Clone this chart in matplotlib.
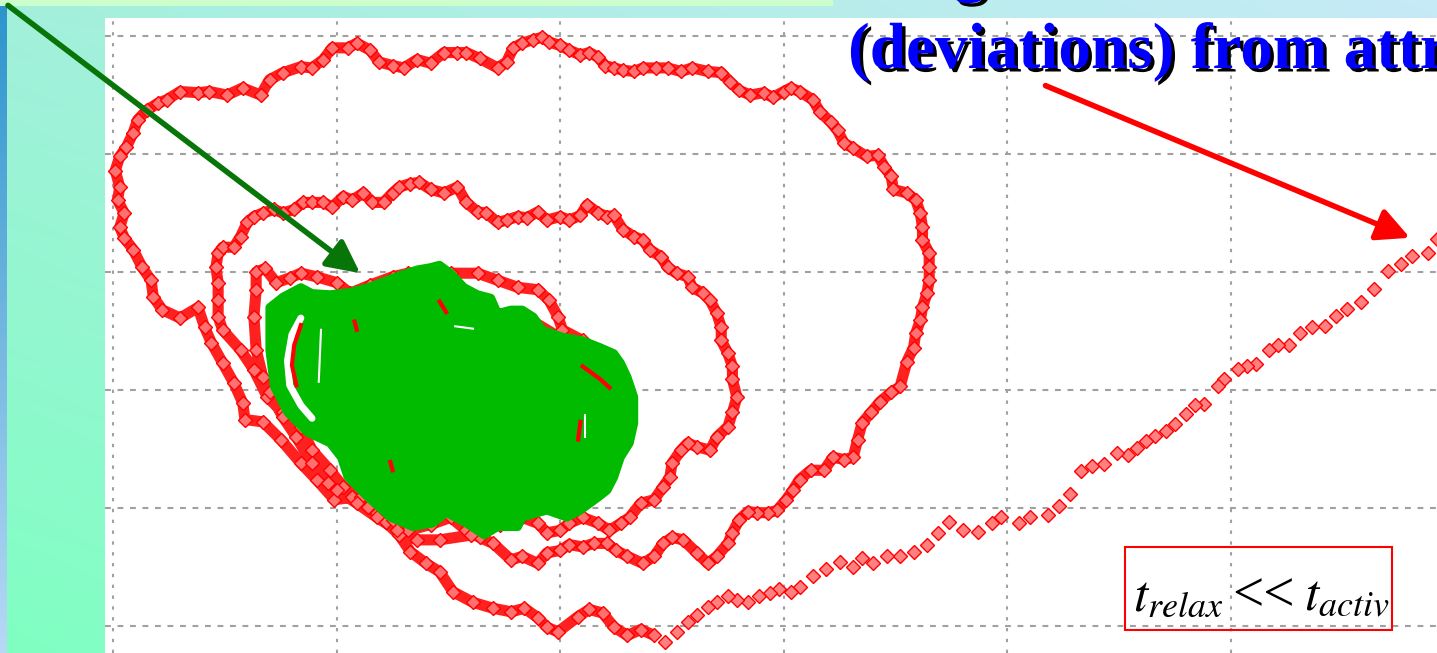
import numpy as np
import matplotlib.pyplot as plt
import matplotlib.patheffects as pe
from matplotlib.patches import Polygon, Rectangle

plt.rcParams['mathtext.fontset'] = 'stix'

# phase-space trajectory, grid units (grid lines at 0..5 on both axes)
# transient: sparse approach from far away (upper right)
tail = [(5.92, 3.28), (5.88, 3.16), (5.81, 3.14), (5.76, 3.07), (5.70, 3.01), (5.64, 2.86),
        (5.58, 2.75), (5.52, 2.69), (5.47, 2.63), (5.42, 2.54), (5.36, 2.53), (5.31, 2.48),
        (5.26, 2.38), (5.21, 2.38), (5.17, 2.34), (5.11, 2.22), (5.07, 2.20), (5.03, 2.18),
        (4.97, 2.09), (4.94, 2.03), (4.88, 1.88), (4.84, 1.87), (4.80, 1.80), (4.75, 1.71),
        (4.71, 1.65), (4.66, 1.61), (4.62, 1.57), (4.58, 1.51), (4.54, 1.45), (4.49, 1.47),
        (4.43, 1.37), (4.38, 1.36), (4.33, 1.31), (4.28, 1.12), (4.23, 1.02), (4.18, 0.94),
        (4.10, 0.92), (4.05, 0.87), (3.97, 0.92), (3.93, 0.87), (3.87, 0.80), (3.80, 0.81),
        (3.74, 0.88), (3.69, 0.79), (3.64, 0.69), (3.58, 0.63), (3.52, 0.59), (3.46, 0.59),
        (3.40, 0.53), (3.35, 0.58), (3.31, 0.50), (3.25, 0.54), (3.19, 0.48), (3.13, 0.42),
        (3.07, 0.33), (3.03, 0.29), (2.98, 0.31), (2.94, 0.28), (2.89, 0.25), (2.84, 0.20),
        (2.79, 0.22), (2.75, 0.25), (2.70, 0.20), (2.66, 0.16), (2.61, 0.09), (2.57, 0.03),
        (2.52, -0.05), (2.47, -0.14)]

# relaxation: spiral winding in towards the attractor
spiral = [(2.42, -0.08), (2.36, -0.03), (2.30, -0.08), (2.24, -0.01), (2.19, 0.11), (2.13, 0.14),
          (2.08, 0.08), (1.99, -0.05), (1.94, -0.01), (1.90, 0.07), (1.84, 0.15), (1.78, 0.12),
          (1.70, 0.15), (1.61, 0.20), (1.52, 0.29), (1.46, 0.46), (1.40, 0.53), (1.33, 0.63),
          (1.28, 0.77), (1.22, 0.88), (1.14, 1.01), (1.07, 1.09), (0.99, 1.07), (0.91, 1.24),
          (0.84, 1.38), (0.75, 1.58), (0.67, 1.73), (0.59, 1.75), (0.58, 1.89), (0.54, 2.06),
          (0.49, 2.23), (0.44, 2.40), (0.41, 2.53), (0.38, 2.70), (0.30, 2.61), (0.22, 2.68),
          (0.18, 2.79), (0.17, 2.93), (0.13, 3.04), (0.09, 3.19), (0.05, 3.29), (0.03, 3.38),
          (0.05, 3.50), (0.02, 3.61), (0.03, 3.72), (0.01, 3.86), (0.03, 3.98), (0.06, 4.06),
          (0.09, 4.18), (0.11, 4.29), (0.15, 4.37), (0.20, 4.43), (0.24, 4.46), (0.30, 4.53),
          (0.38, 4.52), (0.43, 4.53), (0.51, 4.50), (0.58, 4.56), (0.66, 4.50), (0.70, 4.63),
          (0.76, 4.69), (0.84, 4.74), (0.89, 4.73), (0.94, 4.80), (0.98, 4.90), (1.05, 4.90),
          (1.09, 4.94), (1.15, 4.88), (1.19, 4.78), (1.25, 4.75), (1.30, 4.73), (1.36, 4.80),
          (1.42, 4.77), (1.48, 4.86), (1.54, 4.86), (1.58, 4.86), (1.64, 4.81), (1.72, 4.73),
          (1.76, 4.78), (1.79, 4.90), (1.83, 4.94), (1.88, 4.97), (1.92, 4.99), (1.95, 4.95),
          (2.00, 4.92), (2.04, 4.88), (2.09, 4.84), (2.13, 4.86), (2.17, 4.82), (2.20, 4.75),
          (2.24, 4.73), (2.28, 4.71), (2.33, 4.70), (2.37, 4.73), (2.43, 4.73), (2.48, 4.73),
          (2.54, 4.70), (2.59, 4.73), (2.66, 4.70), (2.72, 4.69), (2.76, 4.61), (2.80, 4.54),
          (2.85, 4.50), (2.91, 4.52), (2.95, 4.48), (3.00, 4.53), (3.03, 4.56), (3.07, 4.53),
          (3.13, 4.46), (3.16, 4.36), (3.21, 4.27), (3.24, 4.20), (3.27, 4.09), (3.31, 4.05),
          (3.37, 3.98), (3.42, 3.99), (3.45, 3.89), (3.48, 3.81), (3.49, 3.70), (3.55, 3.67),
          (3.59, 3.61), (3.61, 3.50), (3.62, 3.38), (3.62, 3.27), (3.65, 3.16), (3.65, 3.04),
          (3.65, 2.93), (3.64, 2.82), (3.62, 2.70), (3.61, 2.59), (3.59, 2.48), (3.58, 2.36),
          (3.55, 2.24), (3.52, 2.03), (3.48, 1.98), (3.43, 1.90), (3.39, 1.81), (3.35, 1.72),
          (3.33, 1.58), (3.31, 1.43), (3.27, 1.41), (3.22, 1.43), (3.18, 1.32), (3.12, 1.32),
          (3.07, 1.24), (3.04, 1.15), (3.01, 1.07), (2.97, 0.98), (2.93, 0.96), (2.88, 0.96),
          (2.84, 0.97), (2.80, 0.90), (2.77, 0.79), (2.75, 0.70), (2.70, 0.59), (2.66, 0.53),
          (2.61, 0.62), (2.55, 0.73), (2.50, 0.75), (2.46, 0.70), (2.42, 0.59), (2.37, 0.53),
          (2.30, 0.59), (2.25, 0.64), (2.21, 0.70), (2.15, 0.70), (2.10, 0.67), (2.04, 0.69),
          (2.00, 0.64), (1.94, 0.62), (1.90, 0.53), (1.83, 0.59), (1.78, 0.56), (1.70, 0.70),
          (1.64, 0.75), (1.58, 0.81), (1.51, 0.92), (1.42, 0.86), (1.32, 0.81), (1.25, 0.90),
          (1.18, 0.96), (1.11, 1.09), (1.03, 1.18), (0.97, 1.32), (0.89, 1.49), (0.84, 1.69),
          (0.76, 1.81), (0.69, 1.94), (0.63, 2.17), (0.57, 2.34), (0.49, 2.51), (0.47, 2.62),
          (0.47, 2.76), (0.47, 2.91), (0.46, 3.04), (0.47, 3.16), (0.49, 3.21), (0.54, 3.21),
          (0.57, 3.30), (0.60, 3.42), (0.63, 3.47), (0.67, 3.50), (0.72, 3.53), (0.76, 3.50),
          (0.81, 3.53), (0.85, 3.59), (0.89, 3.59), (0.94, 3.59), (0.98, 3.55), (1.03, 3.64),
          (1.07, 3.61), (1.12, 3.67), (1.16, 3.59), (1.21, 3.59), (1.25, 3.67), (1.28, 3.72),
          (1.33, 3.75), (1.37, 3.76), (1.42, 3.70), (1.48, 3.67), (1.54, 3.72), (1.58, 3.59),
          (1.63, 3.51), (1.67, 3.50), (1.72, 3.42), (1.76, 3.44), (1.81, 3.47), (1.85, 3.46),
          (1.90, 3.51), (1.94, 3.44), (2.00, 3.47), (2.04, 3.44), (2.09, 3.48), (2.12, 3.57),
          (2.17, 3.50), (2.21, 3.47), (2.24, 3.48), (2.28, 3.36), (2.33, 3.30), (2.37, 3.27),
          (2.40, 3.19), (2.45, 3.13), (2.48, 3.04), (2.52, 2.99), (2.57, 2.96), (2.59, 2.87),
          (2.64, 2.82), (2.67, 2.76), (2.70, 2.65), (2.72, 2.53), (2.72, 2.42), (2.75, 2.31),
          (2.77, 2.20), (2.77, 2.09), (2.79, 1.94), (2.77, 1.81), (2.75, 1.69), (2.70, 1.60),
          (2.67, 1.49), (2.61, 1.52), (2.57, 1.55), (2.54, 1.49), (2.50, 1.38), (2.49, 1.26),
          (2.46, 1.18), (2.42, 1.07), (2.36, 1.04), (2.31, 0.92), (2.27, 0.87), (2.22, 0.81),
          (2.17, 0.87), (2.10, 0.92), (2.04, 0.87), (2.00, 0.81), (1.94, 0.79), (1.90, 0.87),
          (1.83, 0.92), (1.73, 0.86), (1.60, 0.77), (1.46, 0.73), (1.36, 0.73), (1.27, 0.81),
          (1.18, 0.92), (1.09, 1.04), (1.00, 1.15), (0.96, 1.21), (0.89, 1.38), (0.82, 1.60),
          (0.76, 1.77), (0.70, 1.98), (0.67, 2.11), (0.64, 2.34), (0.63, 2.62), (0.64, 2.85),
          (0.64, 3.00), (0.68, 3.03), (0.73, 2.91), (0.79, 2.95), (0.84, 2.99), (0.91, 2.96),
          (1.00, 2.91), (1.06, 2.82), (1.15, 2.89), (1.25, 2.96), (1.32, 2.99), (1.40, 3.00),
          (1.51, 2.99), (1.63, 2.99), (1.72, 2.93), (1.81, 2.87), (1.90, 2.85), (1.95, 2.76),
          (1.99, 2.62), (2.01, 2.51), (2.10, 2.42), (2.18, 2.21), (2.21, 1.92), (2.18, 1.58),
          (2.11, 1.32), (2.00, 1.15), (1.82, 1.07), (1.60, 1.07), (1.37, 1.15), (1.15, 1.32),
          (0.97, 1.58), (0.86, 1.92), (0.84, 2.34), (0.97, 2.64), (1.24, 2.72), (1.55, 2.72),
          (1.87, 2.59), (2.09, 2.34)]

# region filled by the trajectory staying on the attractor
attractor = [(0.70, 2.70), (0.76, 2.79), (0.84, 2.87), (0.89, 2.82), (0.97, 2.81), (1.06, 2.83),
             (1.14, 2.87), (1.21, 2.92), (1.28, 2.97), (1.36, 3.02), (1.42, 3.04), (1.46, 3.06),
             (1.51, 2.99), (1.57, 2.87), (1.63, 2.81), (1.69, 2.78), (1.72, 2.65), (1.78, 2.68),
             (1.83, 2.68), (1.88, 2.62), (1.92, 2.51), (2.01, 2.45), (2.10, 2.42), (2.18, 2.36),
             (2.24, 2.31), (2.27, 2.23), (2.30, 2.11), (2.33, 1.94), (2.33, 1.72), (2.31, 1.55),
             (2.27, 1.43), (2.24, 1.26), (2.21, 1.15), (2.17, 1.09), (2.09, 0.98), (2.03, 0.92),
             (1.94, 0.98), (1.83, 0.92), (1.81, 0.84), (1.72, 0.84), (1.66, 0.77), (1.58, 0.87),
             (1.49, 0.96), (1.43, 0.87), (1.34, 0.84), (1.24, 0.92), (1.14, 1.09), (1.05, 1.26),
             (1.02, 1.43), (0.97, 1.55), (0.87, 1.64), (0.78, 1.81), (0.72, 2.03), (0.70, 2.34),
             (0.70, 2.57)]

# gaps between the green loops (left side) and red bits showing through
gap_white = [(0.84, 2.61), (0.80, 2.47), (0.78, 2.25), (0.79, 2.04), (0.84, 1.87), (0.89, 1.76)]
gap_red = [(0.84, 2.55), (0.81, 2.38), (0.80, 2.21), (0.82, 2.04)]
gap_thin = [(0.93, 2.51), (0.92, 2.07)]
red_specks = [[(1.46, 2.75), (1.49, 2.66)],
              [(1.08, 2.58), (1.09, 2.51)],
              [(2.10, 2.20), (2.18, 2.09), (2.22, 2.02)],
              [(2.09, 1.73), (2.08, 1.58)],
              [(1.24, 1.39), (1.25, 1.32)]]
white_specks = [[(1.53, 2.54), (1.61, 2.52)],
                [(2.11, 1.79), (2.11, 1.60)]]

W, H = 1437, 653
fig = plt.figure(figsize=(W / 100, H / 100), dpi=100)

# slide background (gradient, blue side strip, green top strip)
yy, xx = np.mgrid[0:H, 0:W]
u = (xx / (W - 1))[..., None]
v = (yy / (H - 1))[..., None]
tl = np.array([0.64, 0.94, 0.86])
tr = np.array([0.78, 0.92, 0.97])
bl = np.array([0.50, 1.00, 0.76])
br = np.array([0.64, 0.96, 0.88])
bg = (1 - u) * (1 - v) * tl + u * (1 - v) * tr + (1 - u) * v * bl + u * v * br
t = np.linspace(0, 1, H)[:, None, None]
bg[:, :7] = (1 - t) * np.array([0.17, 0.58, 0.80]) + t * np.array([0.72, 0.85, 0.96])
bg[:6, :833] = [0.80, 1.0, 0.80]
ax_bg = fig.add_axes([0, 0, 1, 1])
ax_bg.imshow(bg, aspect='auto', interpolation='nearest')
ax_bg.axis('off')

ax = fig.add_axes([105 / W, 0, (W - 105) / W, (H - 18) / H])
ax.set_facecolor('white')
ax.set_xlim(-0.036, 5.921)
ax.set_ylim(-0.229, 5.153)
ax.set_xticks(range(6))
ax.set_yticks(range(6))
ax.tick_params(length=0, labelbottom=False, labelleft=False)
for s in ax.spines.values():
    s.set_visible(False)
ax.xaxis.grid(True, color='#a0a0a0', lw=1.5, ls=(0, (1.6, 3.6)))
ax.yaxis.grid(True, color='#a0a0a0', lw=1.5, ls=(0, (2.8, 3.2)))
ax.set_axisbelow(True)

tx, ty = np.array(tail).T
ax.plot(tx, ty, ls='none', marker='D', ms=6.8, mfc='#ff8080', mec='#ff0000', mew=1.0, zorder=2)
sx, sy = np.array(spiral).T
ax.plot(sx, sy, color='#ff2020', lw=8, solid_joinstyle='round', solid_capstyle='round',
        marker='D', ms=7, mfc='#ff7070', mec='#ff0000', mew=1.0, zorder=2)

ax.add_patch(Polygon(attractor, closed=True, fc='#00bb00', ec='#00bb00', lw=6,
                     joinstyle='round', zorder=3))
ax.plot(*np.array(gap_white).T, color='white', lw=5, solid_capstyle='round', zorder=4)
ax.plot(*np.array(gap_red).T, color='red', lw=3, zorder=4)
ax.plot(*np.array(gap_thin).T, color='white', lw=1.5, zorder=4)
for sp in red_specks:
    ax.plot(*np.array(sp).T, color='red', lw=3, zorder=4)
for sp in white_specks:
    ax.plot(*np.array(sp).T, color='white', lw=1.5, zorder=4)

# arrows
ax.annotate('', xy=(1.105, 2.99), xytext=(-0.47, 5.26), annotation_clip=False, zorder=5,
            arrowprops=dict(arrowstyle='-|>,head_length=0.9,head_width=0.45', color='#077507',
                            lw=4, mutation_scale=22, shrinkA=0, shrinkB=0))
ax.annotate('', xy=(5.80, 3.29), xytext=(4.17, 4.58), annotation_clip=False, zorder=5,
            arrowprops=dict(arrowstyle='-|>,head_length=0.9,head_width=0.45', color='#ff0000',
                            lw=4, mutation_scale=22, shrinkA=0, shrinkB=0))

shadow = [pe.withSimplePatchShadow(offset=(2.5, -2.5), shadow_rgbFace='black', alpha=1.0)]
ax.text(3.287, 5.40, 'Large fluctuations', fontsize=47, fontweight='bold',
        family='Liberation Serif', color='#0000ff', va='baseline', zorder=6, path_effects=shadow)
ax.text(3.287, 4.729, '(deviations) from attr', fontsize=47, fontweight='bold',
        family='Liberation Serif', color='#0000ff', va='baseline', zorder=6, path_effects=shadow)

ax.add_patch(Rectangle((4.526, -0.034), 1.194, 0.703, fill=False, ec='#ff0000', lw=1.5,
                       zorder=6, clip_on=False))
ax.text(4.562, 0.127, r'$t_{relax}$', fontsize=37, family='Liberation Serif',
        color='black', va='baseline', zorder=7)
ax.text(5.004, 0.127, '<<', fontsize=40, family='Liberation Serif',
        color='black', va='baseline', zorder=7)
ax.text(5.327, 0.127, r'$t_{activ}$', fontsize=37, family='Liberation Serif',
        color='black', va='baseline', zorder=7)

fig.savefig('out.png', dpi=100)
